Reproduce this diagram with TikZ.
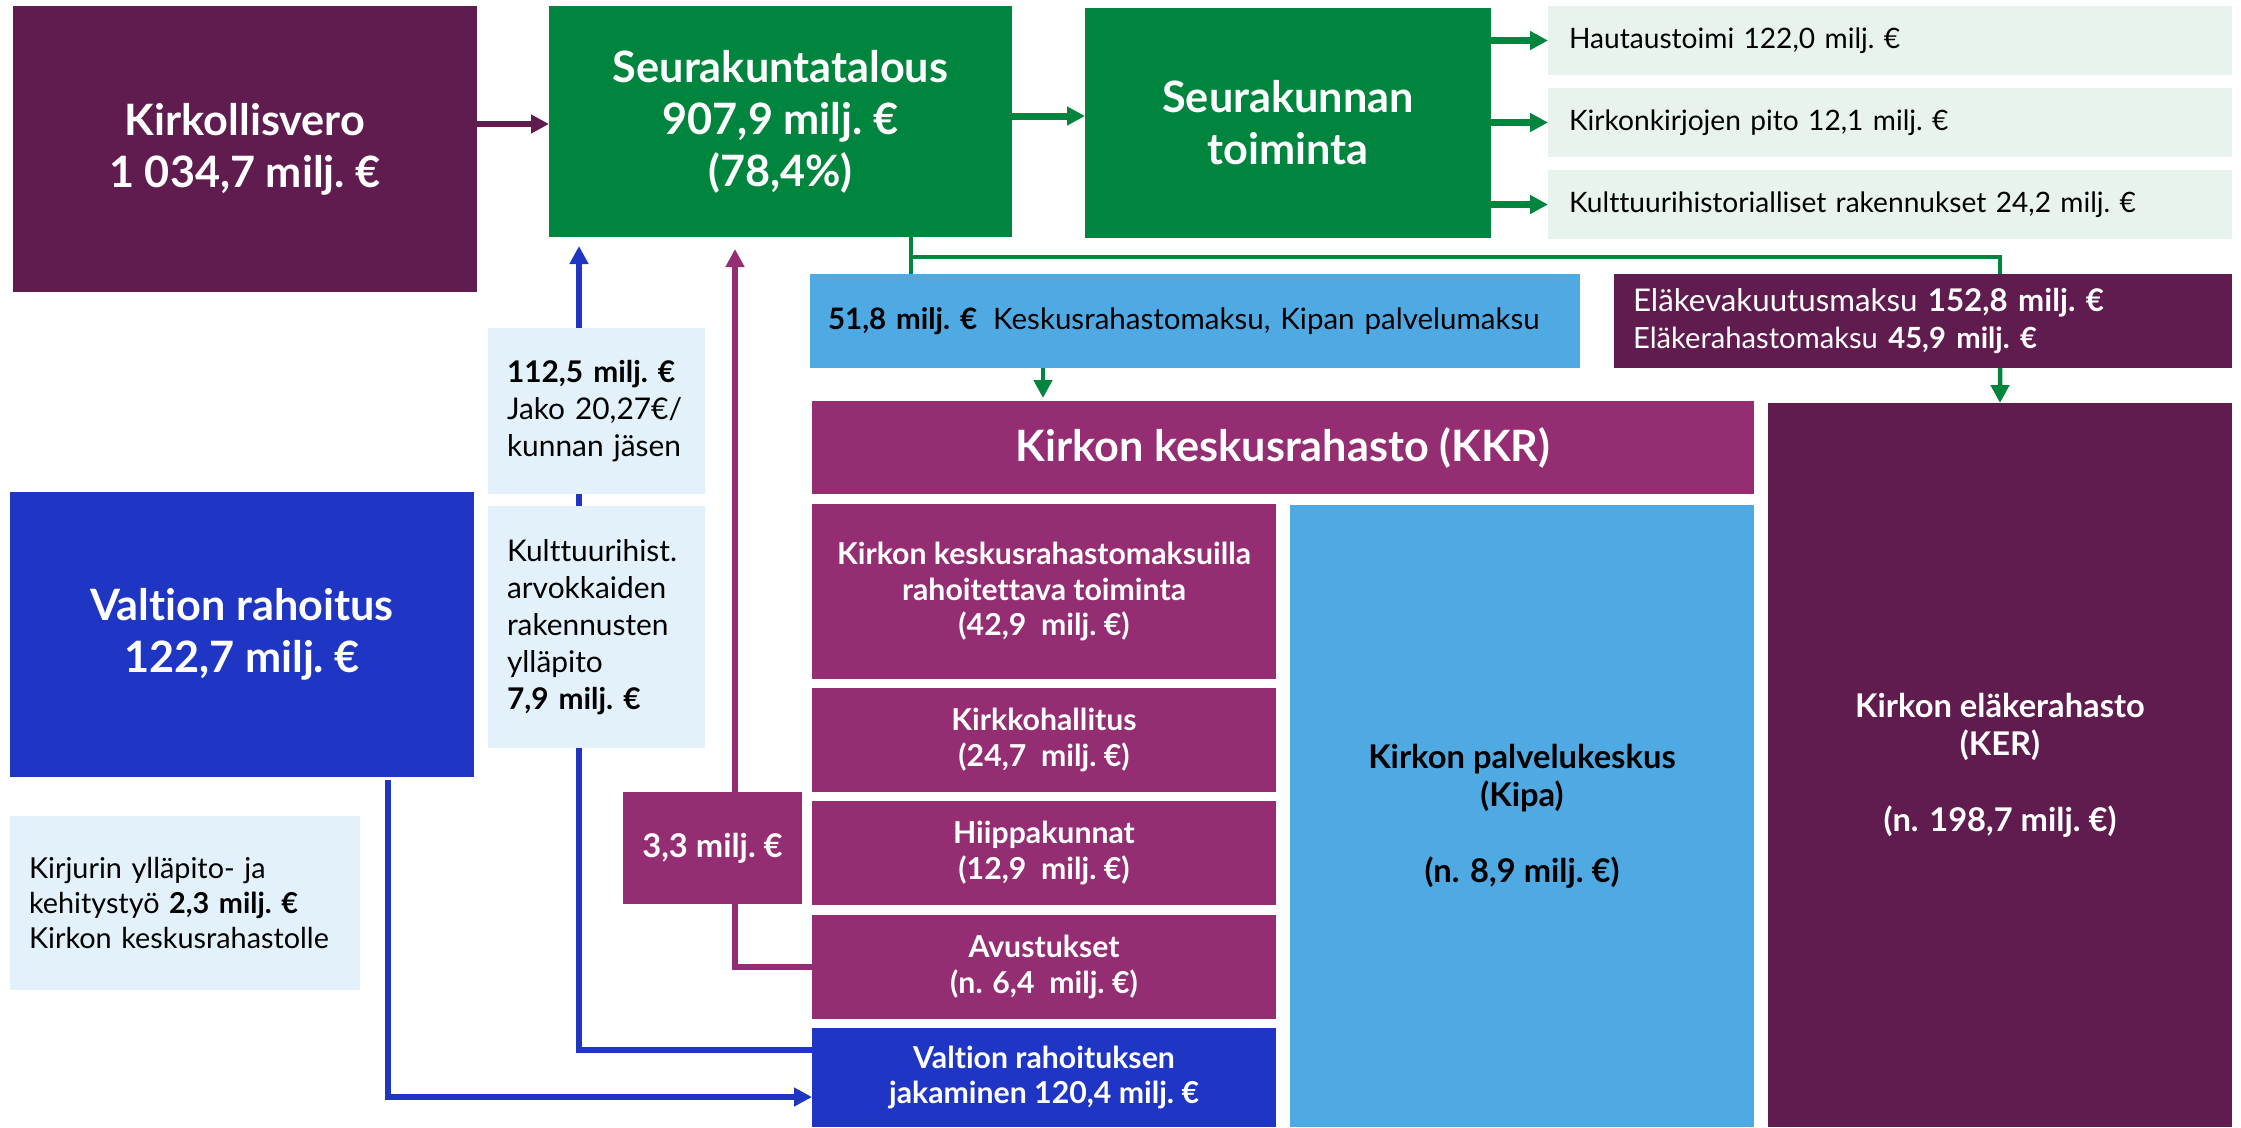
\documentclass[tikz,border=0pt]{standalone}
\usepackage{fontspec}
\setmainfont{Lato}[Ligatures=NoCommon]
\usetikzlibrary{arrows.meta,backgrounds}

\definecolor{tummavio}{RGB}{96,28,79}
\definecolor{kkrvio}{RGB}{148,45,113}
\definecolor{vihrea}{RGB}{0,133,62}
\definecolor{harmaa}{RGB}{233,243,237}
\definecolor{taivas}{RGB}{79,170,228}
\definecolor{sininen}{RGB}{31,54,196}
\definecolor{haalea}{RGB}{227,242,250}

\newcommand{\isoteksti}{\fontsize{12.3pt}{14.8pt}\selectfont\bfseries}
\newcommand{\keskiteksti}{\fontsize{9.3pt}{10.8pt}\selectfont\bfseries}
\newcommand{\pieniteksti}{\fontsize{8.6pt}{10pt}\selectfont\bfseries}
\newcommand{\leipateksti}{\fontsize{8pt}{10.6pt}\selectfont}
\newcommand{\vaaleateksti}{\fontsize{8.5pt}{10.5pt}\selectfont}

\begin{document}
\begin{tikzpicture}[x=0.1mm, y=-0.1mm,
	laatikko/.style={rectangle, inner sep=0pt, outer sep=0pt, align=center},
	vasen/.style={laatikko, align=left},
	nuoli/.style={line width=0.6mm, -{Triangle[length=1.8mm,width=1.8mm]}},
	viiva/.style={line width=0.45mm}]
		\useasboundingbox (0,0) rectangle (2241,1127);

		% Top row
		\node[laatikko, fill=tummavio, text=white, font=\isoteksti, minimum width=46.4mm, minimum height=28.6mm] (vero) at (245,149) {Kirkollisvero\\1 034,7 milj.~€};
		\node[laatikko, fill=vihrea, text=white, font=\isoteksti, minimum width=46.3mm, minimum height=23.1mm] (talous) at (780.5,121.5) {Seurakuntatalous\\907,9 milj.~€\\(78,4\%)};
		\node[laatikko, fill=vihrea, text=white, font=\isoteksti, minimum width=40.6mm, minimum height=23mm] (toiminta) at (1288,123) {Seurakunnan\\toiminta};
		\node[vasen, fill=harmaa, font=\leipateksti, text width=64.2mm, minimum width=68.4mm, minimum height=6.9mm] (hauta) at (1890,40.5) {Hautaustoimi 122,0 milj.~€};
		\node[vasen, fill=harmaa, font=\leipateksti, text width=64.2mm, minimum width=68.4mm, minimum height=6.9mm] (kirjat) at (1890,122.5) {Kirkonkirjojen pito 12,1 milj.~€};
		\node[vasen, fill=harmaa, font=\leipateksti, text width=64.2mm, minimum width=68.4mm, minimum height=6.9mm] (kult) at (1890,204.5) {Kulttuurihistorialliset rakennukset 24,2 milj.~€};

		% Payments
		\node[vasen, fill=taivas, font=\fontsize{8.4pt}{10pt}\selectfont, text width=73.4mm, minimum width=77mm, minimum height=9.4mm] (maksu) at (1195,321) {\textbf{51,8 milj.~€}\hspace{1.6mm}Keskusrahastomaksu, Kipan palvelumaksu};
		\node[vasen, fill=tummavio, text=white, font=\fontsize{8.9pt}{10.5pt}\selectfont, text width=58mm, minimum width=61.8mm, minimum height=9.4mm] (elake) at (1923,321) {Eläkevakuutusmaksu \textbf{152,8 milj.~€}\\{\fontsize{8.3pt}{10.5pt}\selectfont Eläkerahastomaksu \textbf{45,9 milj.~€}}};

		% Central fund and its parts
		\node[laatikko, fill=kkrvio, text=white, font=\isoteksti, minimum width=94.2mm, minimum height=9.3mm] (kkr) at (1283,447.5) {Kirkon keskusrahasto (KKR)};
		\node[laatikko, fill=kkrvio, text=white, font=\pieniteksti, minimum width=46.4mm, minimum height=17.5mm] (toim) at (1044,591.5) {Kirkon keskusrahastomaksuilla\\rahoitettava toiminta\\(42,9\ \ milj.~€)};
		\node[laatikko, fill=kkrvio, text=white, font=\pieniteksti, minimum width=46.4mm, minimum height=10.4mm] (hallitus) at (1044,740) {Kirkkohallitus\\(24,7\ \ milj.~€)};
		\node[laatikko, fill=kkrvio, text=white, font=\pieniteksti, minimum width=46.4mm, minimum height=10.4mm] (hiippa) at (1044,853) {Hiippakunnat\\(12,9\ \ milj.~€)};
		\node[laatikko, fill=kkrvio, text=white, font=\pieniteksti, minimum width=46.4mm, minimum height=10.4mm] (avustus) at (1044,967) {Avustukset\\(n. 6,4\ \ milj.~€)};
		\node[laatikko, fill=sininen, text=white, font=\pieniteksti, minimum width=46.4mm, minimum height=9.9mm] (jako) at (1044,1077.5) {Valtion rahoituksen\\jakaminen 120,4 milj.~€};
		\node[laatikko, fill=taivas, font=\keskiteksti, minimum width=46.4mm, minimum height=62.2mm] (kipa) at (1522,816) {Kirkon palvelukeskus\\(Kipa)\\[\baselineskip](n. 8,9 milj.~€)};
		\node[laatikko, fill=tummavio, text=white, font=\keskiteksti, minimum width=46.4mm, minimum height=72.4mm] (ker) at (2000,765) {Kirkon eläkerahasto\\(KER)\\[\baselineskip](n. 198,7 milj.~€)};

		% State funding
		\node[laatikko, fill=sininen, text=white, font=\isoteksti, minimum width=46.4mm, minimum height=28.5mm] (valtio) at (242,634.5) {Valtion rahoitus\\122,7 milj.~€};
		\node[vasen, fill=haalea, font=\vaaleateksti, text width=17.9mm, minimum width=21.7mm, minimum height=16.6mm] (jasen) at (596.5,411) {\textbf{112,5 milj.~€}\\Jako 20,27€/\\kunnan jäsen};
		\node[vasen, fill=haalea, font=\vaaleateksti, text width=17.9mm, minimum width=21.7mm, minimum height=24.2mm] (kulttuuri) at (596.5,627) {Kulttuurihist.\\arvokkaiden\\rakennusten\\ylläpito\\\textbf{7,9 milj.~€}};
		\node[vasen, fill=haalea, font=\fontsize{8.2pt}{10pt}\selectfont, text width=31.2mm, minimum width=35mm, minimum height=17.4mm] (kirjuri) at (185,903) {Kirjurin ylläpito- ja\\kehitystyö \textbf{2,3 milj.~€}\\Kirkon keskusrahastolle};
		\node[laatikko, fill=kkrvio, text=white, font=\keskiteksti, minimum width=17.9mm, minimum height=11.2mm] (apu) at (712.5,848) {3,3 milj.~€};

		% Arrows and lines
		\begin{pgfonlayer}{background}
		\coordinate (v1) at ([yshift=2.5mm]vero.east);
		\draw[nuoli, draw=tummavio] (v1) -- (v1 -| talous.west);
		\coordinate (t1) at ([yshift=0.55mm]talous.east);
		\draw[nuoli, draw=vihrea, line width=0.7mm] (t1) -- (t1 -| toiminta.west);
		\foreach \kohde in {hauta,kirjat,kult}
			\draw[nuoli, draw=vihrea, line width=0.7mm] (toiminta.east |- \kohde.west) -- (\kohde.west);

		\coordinate (haara) at ([xshift=13.05mm,yshift=-2mm]talous.south);
		\draw[viiva, draw=vihrea] ([xshift=13.05mm]talous.south) -- (haara) -- (haara |- maksu.north);
		\draw[viiva, draw=vihrea] (haara) -| ([xshift=7.7mm]elake.north);
		\coordinate (m1) at ([xshift=-15.2mm]maksu.south);
		\draw[nuoli, draw=vihrea, line width=0.45mm, shorten >=0.3mm] (m1) -- (m1 |- kkr.north);
		\draw[nuoli, draw=vihrea, line width=0.45mm] ([xshift=7.7mm]elake.south) -- (ker.north);

		\coordinate (s1) at ([yshift=2.75mm]jako.west);
		\coordinate (s2) at ([xshift=3mm]talous.south west);
		\draw[nuoli, draw=sininen, shorten >=0.9mm] (s1) -| (s2);
		\coordinate (p1) at ([xshift=18.6mm]talous.south west);
		\draw[nuoli, draw=kkrvio, shorten >=1.2mm] (avustus.west) -| (p1);
		\coordinate (s3) at ([xshift=14.6mm]valtio.south);
		\coordinate (s4) at ([yshift=-1.95mm]jako.west);
		\draw[nuoli, draw=sininen, shorten <=0.3mm] (s3) |- (s4);
		\end{pgfonlayer}
	\end{tikzpicture}
\end{document}
